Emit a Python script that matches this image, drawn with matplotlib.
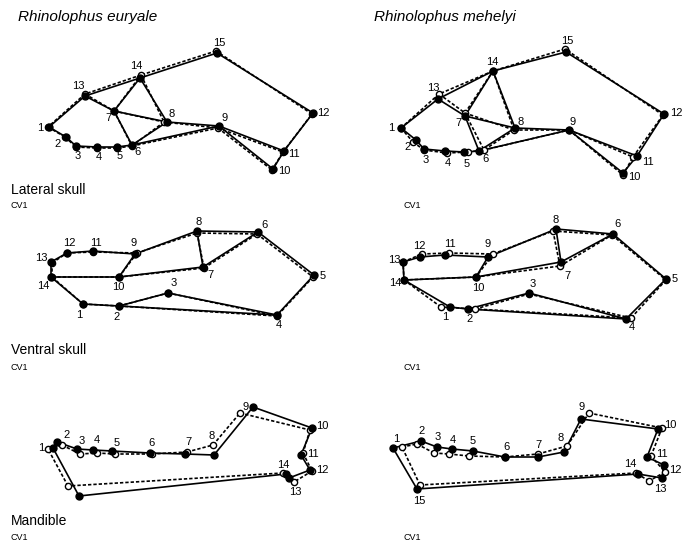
import matplotlib.pyplot as plt

plt.rcParams['font.family'] = ['Liberation Sans', 'DejaVu Sans']

# landmark positions (picture pixels)
# solid = filled dots / solid lines, cv = open dots / dashed lines
lat_eur_solid = [(49, 127), (66, 137), (76, 146), (97, 147), (117, 147), (132, 145), (114, 111), (167, 122),
                 (219, 126), (273, 169), (284, 151), (313, 113), (85, 96), (140, 78), (217, 53)]
lat_eur_cv = [(48, 127), (65, 137), (76, 147), (97, 148), (117, 148), (132, 146), (114, 111), (164, 122),
              (218, 128), (272, 170), (283, 152), (312, 114), (85, 94), (141, 75), (216, 51)]

lat_meh_solid = [(401, 128), (416, 140), (424, 149), (445, 151), (464, 152), (479, 151), (465, 116), (515, 128),
                 (569, 130), (623, 173), (637, 156), (664, 114), (438, 99), (493, 71), (566, 52)]
lat_meh_cv = [(401, 128), (413, 142), (424, 150), (447, 153), (468, 152), (484, 150), (465, 113), (514, 130),
              (569, 130), (623, 175), (633, 157), (663, 115), (439, 94), (493, 71), (565, 49)]

ven_eur_solid = [(83, 304), (119, 306), (168, 293), (277, 315), (314, 275), (258, 232), (203, 267), (197, 231),
                 (135, 254), (119, 277), (93, 251), (67, 253), (51, 262), (51, 277)]
ven_eur_cv = [(83, 304), (119, 306), (168, 293), (277, 316), (313, 277), (257, 234), (204, 268), (197, 233),
              (137, 253), (119, 277), (93, 252), (67, 253), (52, 263), (52, 277)]

ven_meh_solid = [(450, 307), (468, 309), (529, 293), (626, 319), (666, 279), (613, 234), (561, 262), (556, 229),
                 (488, 257), (476, 277), (445, 255), (420, 257), (403, 262), (404, 280)]
ven_meh_cv = [(441, 307), (475, 309), (529, 294), (631, 318), (666, 280), (612, 235), (560, 266), (553, 231),
              (493, 254), (476, 277), (449, 253), (422, 254), (403, 262), (404, 280)]

man_eur_solid = [(53, 448), (57, 442), (77, 449), (93, 450), (112, 451), (150, 453), (185, 454), (214, 455),
                 (253, 407), (312, 428), (301, 455), (310, 470), (289, 478), (286, 474), (79, 496)]
man_eur_cv = [(48, 449), (62, 445), (80, 454), (97, 453), (115, 454), (152, 454), (187, 452), (213, 445),
              (240, 413), (310, 430), (303, 453), (312, 471), (294, 482), (283, 473), (68, 486)]

man_meh_solid = [(393, 448), (421, 441), (437, 447), (452, 449), (473, 451), (505, 457), (538, 457), (564, 452),
                 (581, 419), (658, 429), (647, 457), (664, 465), (662, 478), (638, 474), (417, 489)]
man_meh_cv = [(402, 447), (417, 444), (434, 453), (449, 454), (469, 456), (505, 457), (538, 454), (567, 446),
              (589, 413), (662, 428), (651, 456), (665, 472), (649, 481), (636, 473), (420, 485)]

lat_links = [(1, 2), (2, 3), (3, 4), (4, 5), (5, 6), (6, 9), (9, 10), (9, 11), (10, 11), (11, 12), (12, 15),
             (15, 14), (14, 13), (13, 1), (13, 7), (7, 14), (7, 6), (7, 8), (14, 8), (8, 9), (8, 6)]
ven_links = [(13, 12), (12, 11), (11, 9), (9, 8), (8, 6), (6, 5), (5, 4), (4, 2), (2, 1), (1, 14), (14, 13),
             (14, 10), (10, 7), (7, 6), (8, 7), (9, 10), (2, 3), (3, 4)]
man_links = [(i, i % 15 + 1) for i in range(1, 16)]

# label offsets (pixels) for the landmark numbers
lat_eur_off = [(-9, 1), (-8, 7), (2, 10), (2, 10), (3, 9), (6, 7), (-6, 7), (5, -8), (6, -8), (11, 2),
               (10, 3), (10, 0), (-7, -10), (-4, -12), (2, -10)]
lat_meh_off = [(-10, 0), (-8, 7), (2, 11), (3, 12), (3, 12), (7, 8), (-7, 7), (6, -6), (4, -8), (11, 4),
               (11, 6), (12, -1), (-5, -11), (-1, -9), (1, -11)]
ven_eur_off = [(-4, 11), (-2, 11), (6, -10), (2, 10), (9, 1), (7, -7), (7, 8), (2, -9), (-1, -11), (-1, 10),
               (3, -8), (2, -10), (-10, -4), (-8, 9)]
ven_meh_off = [(-5, 10), (2, 10), (4, -9), (6, 8), (9, 0), (5, -10), (6, 14), (0, -9), (0, -13), (2, 11),
               (5, -11), (-1, -11), (-9, -2), (-9, 3)]
man_eur_off = [(-12, 0), (10, -7), (5, -8), (4, -10), (5, -8), (2, -10), (3, -12), (-2, -19), (-7, 0),
               (10, -2), (12, -1), (12, 0), (6, 14), (-3, -9), None]
man_meh_off = [(3, -9), (1, -10), (1, -10), (1, -9), (0, -10), (2, -10), (0, -12), (-3, -14), (1, -12),
               (12, -4), (15, -3), (11, 5), (-2, 11), (-8, -10), (2, 12)]

panels = [
    (lat_eur_solid, lat_eur_cv, lat_links, lat_eur_off),
    (lat_meh_solid, lat_meh_cv, lat_links, lat_meh_off),
    (ven_eur_solid, ven_eur_cv, ven_links, ven_eur_off),
    (ven_meh_solid, ven_meh_cv, ven_links, ven_meh_off),
    (man_eur_solid, man_eur_cv, man_links, man_eur_off),
    (man_meh_solid, man_meh_cv, man_links, man_meh_off),
]

fig = plt.figure(figsize=(6.91, 5.48), dpi=100)
ax = fig.add_axes([0, 0, 1, 1])
ax.set_xlim(0, 691)
ax.set_ylim(548, 0)
ax.axis('off')

for solid, cv, links, offs in panels:
    for a, b in links:
        p, q = cv[a - 1], cv[b - 1]
        ax.plot([p[0], q[0]], [p[1], q[1]], color='black', lw=1.2, ls=(0, (2.0, 1.2)), zorder=1)
    for a, b in links:
        p, q = solid[a - 1], solid[b - 1]
        ax.plot([p[0], q[0]], [p[1], q[1]], color='black', lw=1.2, zorder=2)
    ax.scatter([p[0] for p in cv], [p[1] for p in cv], s=20, facecolor='white',
               edgecolor='black', linewidth=1.0, zorder=3)
    ax.scatter([p[0] for p in solid], [p[1] for p in solid], s=25, color='black', zorder=4)
    for i, (p, o) in enumerate(zip(solid, offs)):
        if o is None:
            continue
        ax.text(p[0] + o[0], p[1] + o[1], str(i + 1), fontsize=8, ha='center', va='center', zorder=5)

ax.text(18, 17, 'Rhinolophus euryale', fontsize=11, style='italic', va='center')
ax.text(374, 17, 'Rhinolophus mehelyi', fontsize=11, style='italic', va='center')

for label, y in [('Lateral skull', 190), ('Ventral skull', 350), ('Mandible', 521)]:
    ax.text(11, y, label, fontsize=10, va='center')
for y in [206, 368, 538]:
    ax.text(11, y, 'CV1', fontsize=6.5, va='center')
    ax.text(404, y, 'CV1', fontsize=6.5, va='center')

fig.savefig('out.png', dpi=100)
